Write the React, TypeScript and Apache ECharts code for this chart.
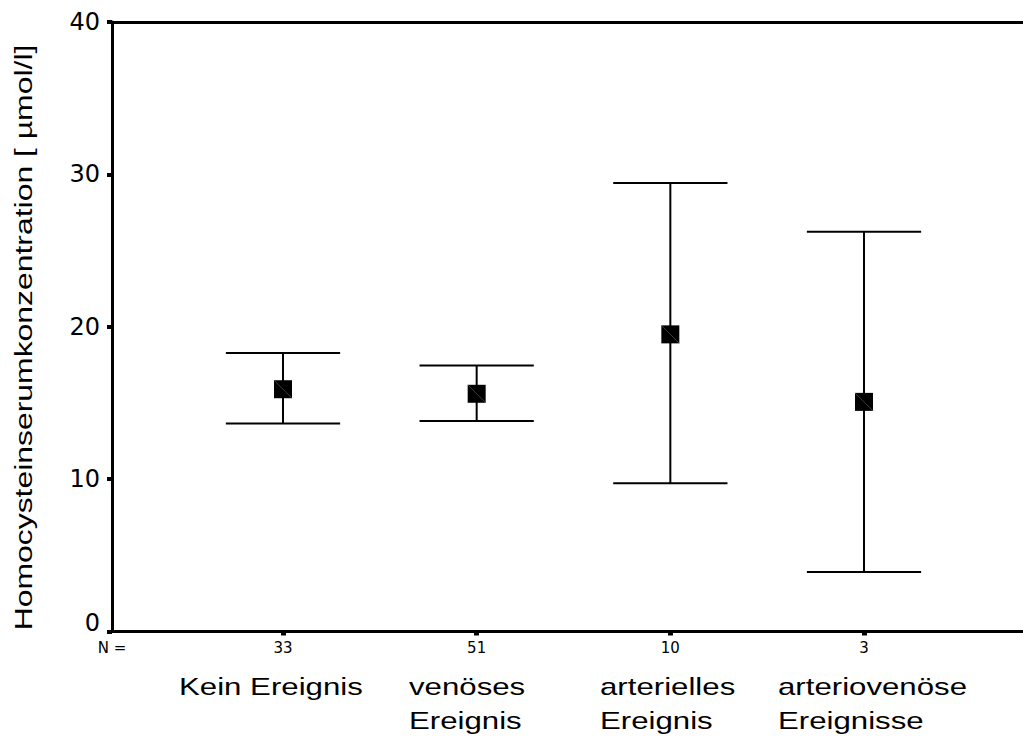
import { useEffect, useRef } from 'react';
import * as echarts from 'echarts';

// ---- data ----
const categories = ['Kein Ereignis', 'venöses\nEreignis', 'arterielles\nEreignis', 'arteriovenöse\nEreignisse'];
const nCounts = [33, 51, 10, 3];
const means = [15.9, 15.6, 19.5, 15.07];
const lowerCI = [13.65, 13.82, 9.73, 3.91];
const upperCI = [18.27, 17.45, 29.43, 26.23];
const yAxisTitle = 'Homocysteinserumkonzentration [ µmol/l]';
const nPrefix = 'N =';

// ---- layout constants ----
const X_MIN = 0.117;
const X_MAX = 4.821;
const CAP_HALF = 0.295;
const labelLeft = [179, 409, 600, 778];
const FONT_TEXT = '"Liberation Sans", Arial, sans-serif';
const FONT_NUM = '"DejaVu Sans", sans-serif';

export default function App() {
  const ref = useRef<HTMLDivElement>(null);
  useEffect(() => {
    document.body.style.margin = '0';
    const chart = echarts.init(ref.current!, null, { renderer: 'svg' });
    const positions = categories.map((_, i) => i + 1);
    const errData = categories.map((_, i) => [i + 1, lowerCI[i], upperCI[i], means[i]]);
    const axisLineStyle = { color: '#000', width: 3 };

    chart.setOption({
      animation: false,
      backgroundColor: '#fff',
      grid: { left: 112, right: 0, top: 22, bottom: 104.5, containLabel: false },
      xAxis: [
        {
          type: 'value',
          min: X_MIN,
          max: X_MAX,
          position: 'bottom',
          splitLine: { show: false },
          axisLine: { onZero: false, lineStyle: axisLineStyle },
          axisTick: { customValues: positions, length: 4, lineStyle: { color: '#000', width: 5 } },
          axisLabel: {
            customValues: [X_MIN, ...positions],
            formatter: (v: number) => (v < 0.5 ? nPrefix : String(nCounts[Math.round(v) - 1])),
            fontFamily: FONT_NUM,
            fontSize: 15,
            color: '#000',
            margin: 9,
          },
        },
        {
          type: 'value',
          min: X_MIN,
          max: X_MAX,
          position: 'top',
          splitLine: { show: false },
          axisLine: { onZero: false, lineStyle: axisLineStyle },
          axisTick: { show: false },
          axisLabel: { show: false },
        },
      ],
      yAxis: {
        type: 'value',
        min: 0,
        max: 40,
        interval: 10,
        splitLine: { show: false },
        axisLine: { show: true, onZero: false, lineStyle: axisLineStyle },
        axisTick: { show: true, length: 5, lineStyle: { color: '#000', width: 4 } },
        axisLabel: {
          fontFamily: FONT_NUM,
          fontSize: 24,
          color: '#000',
          margin: 12,
          formatter: (v: number) => (v === 0 ? '{z|0}' : String(v)),
          rich: { z: { fontFamily: FONT_NUM, fontSize: 24, color: '#000', padding: [0, 0, 18, 0] } },
        },
      },
      series: [
        {
          type: 'custom',
          clip: false,
          data: errData,
          encode: { x: 0, y: [1, 2, 3] },
          renderItem: (_params: any, api: any) => {
            const x = api.value(0);
            const lo = api.coord([x, api.value(1)]);
            const hi = api.coord([x, api.value(2)]);
            const m = api.coord([x, api.value(3)]);
            const half = api.size([CAP_HALF, 0])[0];
            const s = 9;
            const ls = { stroke: '#000', lineWidth: 2 };
            return {
              type: 'group',
              children: [
                { type: 'line', shape: { x1: hi[0], y1: hi[1], x2: lo[0], y2: lo[1] }, style: ls },
                { type: 'line', shape: { x1: hi[0] - half, y1: hi[1], x2: hi[0] + half, y2: hi[1] }, style: ls },
                { type: 'line', shape: { x1: lo[0] - half, y1: lo[1], x2: lo[0] + half, y2: lo[1] }, style: ls },
                { type: 'rect', shape: { x: m[0] - s, y: m[1] - s, width: 2 * s, height: 2 * s }, style: { fill: '#000' } },
                { type: 'line', shape: { x1: m[0] - s, y1: m[1] - s, x2: m[0] + s, y2: m[1] + s }, style: { stroke: '#666', lineWidth: 0.6 } },
              ],
            };
          },
        },
      ],
      graphic: [
        {
          type: 'text',
          x: 23.5,
          y: 337.5,
          rotation: Math.PI / 2,
          scaleX: 1.33,
          style: { text: yAxisTitle, fontFamily: FONT_TEXT, fontSize: 24, fill: '#000', align: 'center', verticalAlign: 'middle' },
        },
        ...categories.map((c, i) => ({
          type: 'text',
          x: labelLeft[i],
          y: 670,
          scaleX: 1.3,
          style: { text: c, fontFamily: FONT_TEXT, fontSize: 24, lineHeight: 34, fill: '#000', align: 'left', verticalAlign: 'top' },
        })),
      ],
    });
    return () => chart.dispose();
  }, []);
  return <div ref={ref} style={{ width: 1023, height: 736 }} />;
}
